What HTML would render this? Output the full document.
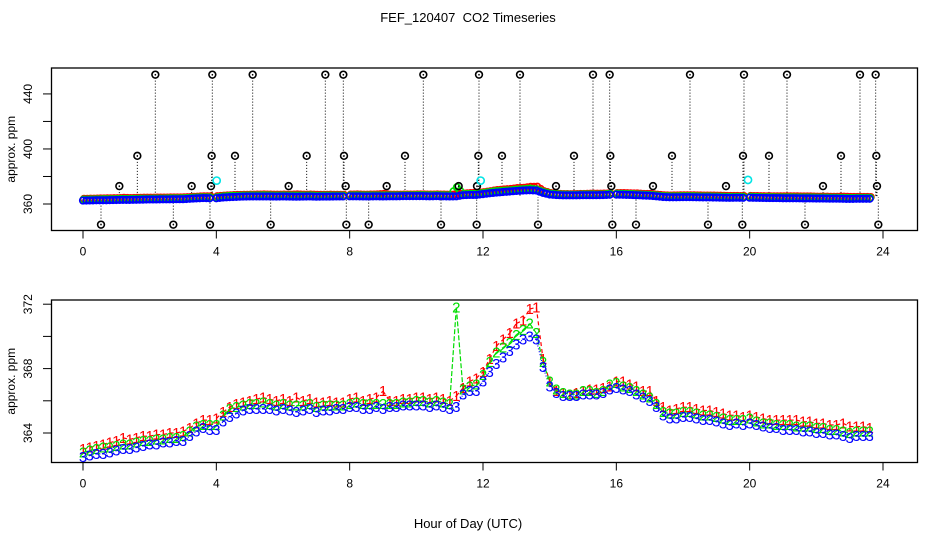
<!DOCTYPE html>
<html><head><meta charset="utf-8"><style>
html,body{margin:0;padding:0;background:#fff}
svg{display:block;font-family:"Liberation Sans",sans-serif}
</style></head><body>
<svg id="chart" width="936" height="540" viewBox="0 0 936 540" xmlns="http://www.w3.org/2000/svg">
<rect width="936" height="540" fill="#fff"/>
<text x="468" y="22" font-size="13" text-anchor="middle" style="white-space:pre">FEF_120407  CO2 Timeseries</text>
<text x="468" y="528" font-size="13" text-anchor="middle">Hour of Day (UTC)</text>
<g id="top"></g>
<g id="bot"></g>
</svg>
<script>
const segStarts=[0.0,4.0,8.0,16.0,20.0];
const segCounts=[20,20,40,20,19];
const series3=[362.5,362.6,362.7,362.7,362.8,362.9,363.0,363.0,363.1,363.2,363.3,363.3,363.4,363.4,363.5,363.5,363.8,364.1,364.3,364.2,
364.2,364.7,365.0,365.2,365.4,365.5,365.5,365.5,365.5,365.4,365.5,365.4,365.3,365.4,365.5,365.3,365.4,365.4,365.5,365.5,
365.6,365.6,365.5,365.5,365.6,365.5,365.6,365.6,365.7,365.7,365.7,365.7,365.6,365.7,365.6,365.5,365.6,366.4,366.6,366.6,367.2,367.8,368.3,368.7,369.1,369.5,369.8,370.0,369.8,368.1,366.9,366.5,366.3,366.3,366.3,366.4,366.4,366.4,366.5,366.7,
366.8,366.7,366.6,366.4,366.2,366.0,365.6,365.1,364.9,364.9,365.0,365.0,364.9,364.8,364.8,364.7,364.6,364.5,364.6,364.5,
364.6,364.5,364.4,364.3,364.3,364.2,364.2,364.2,364.1,364.1,364.0,364.0,363.9,363.9,363.8,363.7,363.8,363.8,363.8];
const series1=[363.0,363.1,363.2,363.3,363.4,363.5,363.7,363.6,363.7,363.8,363.8,363.9,363.9,364.0,364.0,364.1,364.3,364.6,364.8,364.8,
364.9,365.3,365.6,365.8,365.9,366.0,366.1,366.2,366.1,366.0,366.1,366.0,366.2,366.0,366.1,365.9,365.9,366.0,365.9,365.9,
366.1,366.2,366.0,366.1,366.2,366.6,366.0,366.0,366.1,366.1,366.2,366.2,366.1,366.2,366.1,366.0,366.3,366.8,367.2,367.4,367.8,368.6,369.4,369.8,370.2,370.8,371.0,371.7,371.8,368.6,367.2,366.6,366.5,366.4,366.5,366.6,366.7,366.7,366.8,366.9,
367.2,367.2,367.0,366.9,366.6,366.6,366.0,365.6,365.4,365.5,365.6,365.6,365.5,365.4,365.4,365.3,365.2,365.1,365.1,365.0,
365.1,365.0,364.9,364.8,364.8,364.8,364.8,364.8,364.7,364.7,364.6,364.6,364.5,364.5,364.6,364.4,364.4,364.4,364.3];
const series2=[362.8,362.9,363.0,363.1,363.1,363.2,363.3,363.3,363.4,363.5,363.5,363.6,363.6,363.7,363.7,363.8,364.1,364.4,364.5,364.5,
364.5,365.1,365.5,365.6,365.7,365.8,365.8,365.9,365.8,365.7,365.8,365.7,365.7,365.7,365.8,365.6,365.7,365.7,365.7,365.7,
365.8,365.9,365.8,365.8,365.8,365.8,365.8,365.8,365.9,365.9,366.0,366.0,365.9,366.0,365.9,365.8,371.8,366.7,366.9,367.0,367.6,368.4,369.0,369.3,369.6,370.1,370.4,370.8,370.2,368.4,367.2,366.7,366.5,366.4,366.4,366.6,366.6,366.5,366.6,367.0,
367.1,366.9,366.8,366.6,366.4,366.2,365.8,365.3,365.2,365.2,365.3,365.3,365.2,365.1,365.1,365.0,364.9,364.8,364.8,364.8,
364.9,364.7,364.6,364.6,364.5,364.5,364.5,364.4,364.4,364.4,364.3,364.3,364.2,364.2,364.1,364.0,364.1,364.1,364.1];
const outlierHours=[0.54,1.09,1.63,2.17,2.71,3.26,3.81,3.84,3.86,3.88,4.56,5.09,5.63,6.17,6.71,7.27,7.81,7.83,7.88,7.90,8.57,9.11,9.66,10.21,10.74,11.27,11.81,11.82,11.86,11.88,
12.57,13.11,13.65,14.19,14.73,15.30,15.80,15.82,15.85,15.88,16.59,17.10,17.67,18.21,18.75,19.29,19.78,19.80,19.83,20.58,21.12,21.66,22.20,22.74,23.31,23.78,23.80,23.82,23.86];
const outlierValues=[345,373,395,454,345,373,345,373,395,454,395,454,345,373,395,454,454,395,373,345,345,373,395,454,345,373,345,373,395,454,
395,454,345,373,395,454,454,395,373,345,345,373,395,454,345,373,345,395,454,395,454,345,373,395,454,454,395,373,345];
const cyanHours=[4.01,11.93,19.95];
const cyanValues=[377,377,377.5];
const xTicks=[0,4,8,12,16,20,24];
const topYTicks=[360,380,400,420,440];
const topYLabels=[360,400,440];
const botYTicks=[364,366,368,370,372];
const botYLabels=[364,368,372];

const NS="http://www.w3.org/2000/svg";
function mk(parent,tag,attrs){const e=document.createElementNS(NS,tag);for(const k in attrs)e.setAttribute(k,attrs[k]);parent.appendChild(e);return e;}
const hours=[];segStarts.forEach((s,i)=>{for(let j=0;j<segCounts[i];j++)hours.push(+(s+0.2*j).toFixed(2));});
const segOf=[];segCounts.forEach((c,i)=>{for(let j=0;j<c;j++)segOf.push(i);});
const X=h=>83+h*33.333;
const Ytop=v=>204-(v-360)*1.376;
const Ybot=v=>433-(v-364)*16.1;
const colors=["#ff0000","#00dd00","#0000ff"];
const allSeries=[series1,series2,series3];

function axes(g,top,bottom,Y,yTicks,yLabels,name){
  const box=mk(g,'rect',{x:51.5,y:top,width:866,height:bottom-top,fill:'none',stroke:'#000','stroke-width':1.3});
  
  xTicks.forEach(t=>{
    const l=mk(g,'line',{x1:X(t),x2:X(t),y1:bottom,y2:bottom+8,stroke:'#000'});
    
    const tx=mk(g,'text',{x:X(t),y:bottom+25,'font-size':12,'text-anchor':'middle'});tx.textContent=t;
    
  });
  yTicks.forEach(t=>{
    const l=mk(g,'line',{x1:43,x2:51.5,y1:Y(t),y2:Y(t),stroke:'#000'});
    
  });
  yLabels.forEach(t=>{
    const tx=mk(g,'text',{x:0,y:0,'font-size':12,'text-anchor':'middle',transform:`translate(32,${Y(t)}) rotate(-90)`});tx.textContent=t;
    
  });
  const yt=mk(g,'text',{x:0,y:0,'font-size':12,'text-anchor':'middle',transform:`translate(15,${(top+bottom)/2}) rotate(-90)`});yt.textContent='approx. ppm';
  
}
const gt=document.getElementById('top'),gb=document.getElementById('bot');
axes(gt,68,230.5,Ytop,topYTicks,topYLabels,'top');
axes(gb,300,462.5,Ybot,botYTicks,botYLabels,'bottom');

outlierHours.forEach((h,i)=>{
  const v=outlierValues[i];
  const l=mk(gt,'line',{x1:X(h),x2:X(h),y1:Ytop(v),y2:Ytop(365),stroke:'#000','stroke-dasharray':'1,2'});
  
});
allSeries.forEach((s,k)=>{
  const off=[1,0.5,0][k];
  s.forEach((v,i)=>{
    const c=mk(gt,'circle',{cx:X(hours[i])+off,cy:Ytop(v)-off,r:3.3,fill:'none',stroke:colors[k],'stroke-width':1.6});
    
    if(i<s.length-1&&segOf[i]==segOf[i+1]){
      const m=mk(gt,'circle',{cx:(X(hours[i])+X(hours[i+1]))/2+off,cy:Ytop((v+s[i+1])/2)-off,r:3.3,fill:'none',stroke:colors[k],'stroke-width':1.6});
      
    }
  });
});
outlierHours.forEach((h,i)=>{
  const c=mk(gt,'circle',{cx:X(h),cy:Ytop(outlierValues[i]),r:3.4,fill:'none',stroke:'#000','stroke-width':1.6});
  
  const d=mk(gt,'circle',{cx:X(h),cy:Ytop(outlierValues[i]),r:0.8,fill:'#000'});
  
});
cyanHours.forEach((h,i)=>{
  const c=mk(gt,'circle',{cx:X(h),cy:Ytop(cyanValues[i]),r:3.6,fill:'none',stroke:'#00e5e5','stroke-width':1.6});
  
});
const dashes=['4,3','5,2','1,2'];
allSeries.forEach((s,k)=>{
  for(let i=0;i<s.length-1;i++){
    if(segOf[i]!=segOf[i+1])continue;
    const l=mk(gb,'line',{x1:X(hours[i]),y1:Ybot(s[i]),x2:X(hours[i+1]),y2:Ybot(s[i+1]),stroke:colors[k],'stroke-width':1.2,'stroke-dasharray':dashes[k]});
    
  }
});
[0,1,2].forEach(k=>{
  const s=allSeries[k];
  s.forEach((v,i)=>{
    const t=mk(gb,'text',{x:X(hours[i]),y:Ybot(v)+5,'font-size':15,'text-anchor':'middle',fill:colors[k]});
    t.textContent=String(k+1);
    
  });
});
</script>
</body></html>
